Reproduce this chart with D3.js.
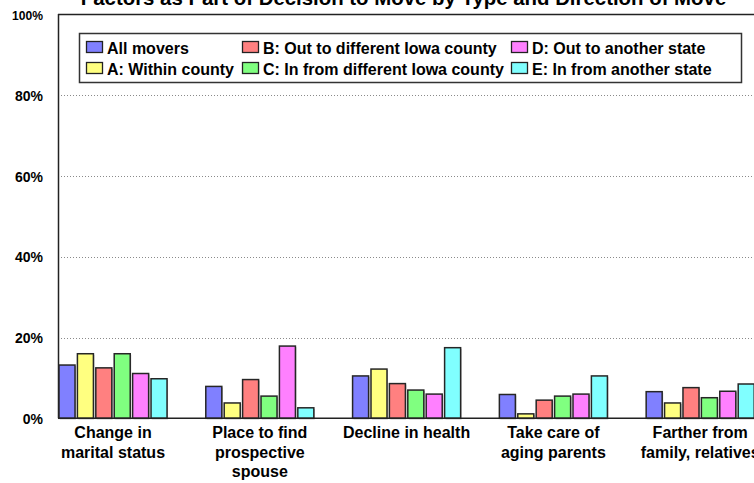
<!DOCTYPE html>
<html>
<head>
<meta charset="utf-8">
<script src="https://cdn.jsdelivr.net/npm/d3@7"></script>
<style>
  html, body { margin: 0; padding: 0; background: #fff; }
  svg { display: block; font-family: "Liberation Sans", Arial, sans-serif; }
</style>
</head>
<body>
<svg id="chart" width="754" height="483"></svg>
<script>
// ---- data ----
const categories = [
  ["Change in", "marital status"],
  ["Place to find", "prospective", "spouse"],
  ["Decline in health"],
  ["Take care of", "aging parents"],
  ["Farther from", "family, relatives"]
];
const seriesNames = [
  "All movers",
  "A: Within county",
  "B: Out to different Iowa county",
  "C: In from different Iowa county",
  "D: Out to another state",
  "E: In from another state"
];
const seriesColors = ["#8080FF", "#FFFF80", "#FF8080", "#80FF80", "#FF80FF", "#80FFFF"];
const allMovers   = [13.2, 7.9, 10.5, 5.9, 6.6];
const withinCounty= [16.0, 3.8, 12.2, 1.1, 3.8];
const outIowa     = [12.5, 9.6, 8.6, 4.5, 7.6];
const inIowa      = [16.0, 5.5, 7.0, 5.5, 5.1];
const outState    = [11.1, 17.9, 6.0, 6.0, 6.7];
const inState     = [9.8, 2.6, 17.5, 10.5, 8.5];
const seriesValues = [allMovers, withinCounty, outIowa, inIowa, outState, inState];
const yTicks = [0, 20, 40, 60, 80, 100];
const title = "Factors as Part of Decision to Move by Type and Direction of Move";

// ---- layout ----
const svg = d3.select("#chart");
const plotLeft = 58, plotRight = 760, plotTop = 14, plotBottom = 418.3;

const catKeys = categories.map((c, i) => i);
const x0 = d3.scaleBand().domain(catKeys).range([59, 754.2]).paddingInner(0.264).paddingOuter(0);
const x1 = d3.scaleBand().domain(d3.range(seriesNames.length)).range([0, x0.bandwidth()]).paddingInner(0.13).paddingOuter(0);
const y = d3.scaleLinear().domain([0, 100]).range([plotBottom, 14.8]);

// title
svg.append("text")
  .attr("x", 403.5).attr("y", 5)
  .attr("text-anchor", "middle")
  .attr("font-size", 20.4).attr("font-weight", "bold")
  .attr("fill", "#000")
  .text(title);

// gridlines
svg.append("g").selectAll("line")
  .data(yTicks.filter(t => t > 0 && t < 100))
  .join("line")
  .attr("x1", plotLeft).attr("x2", plotRight)
  .attr("y1", d => Math.round(y(d)) + 0.5).attr("y2", d => Math.round(y(d)) + 0.5)
  .attr("stroke", "#8a8a8a").attr("stroke-width", 1)
  .attr("stroke-dasharray", "1,2");

// plot border top
svg.append("line")
  .attr("x1", plotLeft).attr("x2", plotRight)
  .attr("y1", 14.5).attr("y2", 14.5)
  .attr("stroke", "#222").attr("stroke-width", 1.3);

// y axis
const yAxis = d3.axisLeft(y).tickValues(yTicks).tickSize(0).tickPadding(0).tickFormat(d => d + "%");
const gy = svg.append("g").attr("transform", `translate(43,0)`).call(yAxis);
gy.select(".domain").remove();
gy.selectAll("text")
  .attr("font-size", 14).attr("font-weight", "bold").attr("fill", "#000")
  .attr("font-family", "'Liberation Sans', Arial, sans-serif")
  .attr("dy", "0.35em");
gy.selectAll(".tick").filter(d => d === 100).select("text")
  .attr("font-size", 12.5).attr("textLength", 31).attr("lengthAdjust", "spacingAndGlyphs");

svg.append("line")
  .attr("x1", plotLeft + 0.5).attr("x2", plotLeft + 0.5)
  .attr("y1", 14).attr("y2", plotBottom)
  .attr("stroke", "#222").attr("stroke-width", 1.5);

// bars
const groups = svg.append("g").selectAll("g")
  .data(catKeys)
  .join("g")
  .attr("transform", d => `translate(${x0(d)},0)`);

groups.selectAll("rect.shadow")
  .data(ci => seriesValues.map((vals, si) => ({ si, v: vals[ci] })))
  .join("rect")
  .attr("class", "shadow")
  .attr("x", d => x1(d.si) + 1)
  .attr("y", d => y(d.v) + 1)
  .attr("width", x1.bandwidth())
  .attr("height", d => y(0) - y(d.v))
  .attr("fill", "#bbb");

groups.selectAll("rect.bar")
  .data(ci => seriesValues.map((vals, si) => ({ si, v: vals[ci] })))
  .join("rect")
  .attr("class", "bar")
  .attr("x", d => x1(d.si))
  .attr("y", d => y(d.v))
  .attr("width", x1.bandwidth())
  .attr("height", d => y(0) - y(d.v))
  .attr("fill", d => seriesColors[d.si])
  .attr("stroke", "#262626").attr("stroke-width", 1.5);

// baseline
svg.append("line")
  .attr("x1", plotLeft).attr("x2", plotRight)
  .attr("y1", plotBottom).attr("y2", plotBottom)
  .attr("stroke", "#222").attr("stroke-width", 1.5);

// category labels
const labels = svg.append("g").selectAll("text")
  .data(catKeys)
  .join("text")
  .attr("x", d => x0(d) + x0.bandwidth() / 2)
  .attr("y", 438)
  .attr("text-anchor", "middle")
  .attr("font-size", 16).attr("font-weight", "bold").attr("fill", "#000");
labels.selectAll("tspan")
  .data(d => categories[d].map((line, li) => ({ line, li, ci: d })))
  .join("tspan")
  .attr("x", d => x0(d.ci) + x0.bandwidth() / 2)
  .attr("dy", d => d.li === 0 ? 0 : 19.5)
  .text(d => d.line);

// legend
const legend = svg.append("g");
legend.append("rect")
  .attr("x", 79.5).attr("y", 33.5).attr("width", 662).attr("height", 49)
  .attr("fill", "#fff").attr("stroke", "#333").attr("stroke-width", 1.5);
const colX = [86, 242, 511];
const rowY = [41, 62];
const items = seriesNames.map((name, i) => ({ name, i, col: Math.floor(i / 2), row: i % 2 }));
const li = legend.selectAll("g.item").data(items).join("g").attr("class", "item")
  .attr("transform", d => `translate(${colX[d.col]},${rowY[d.row]})`);
li.append("rect")
  .attr("x", 0.5).attr("y", 0.5).attr("width", 16).attr("height", 11)
  .attr("fill", d => seriesColors[d.i]).attr("stroke", "#222").attr("stroke-width", 1.3);
li.append("text")
  .attr("x", 21).attr("y", 13)
  .attr("font-size", 16).attr("font-weight", "bold").attr("fill", "#000")
  .text(d => d.name);
</script>
</body>
</html>
